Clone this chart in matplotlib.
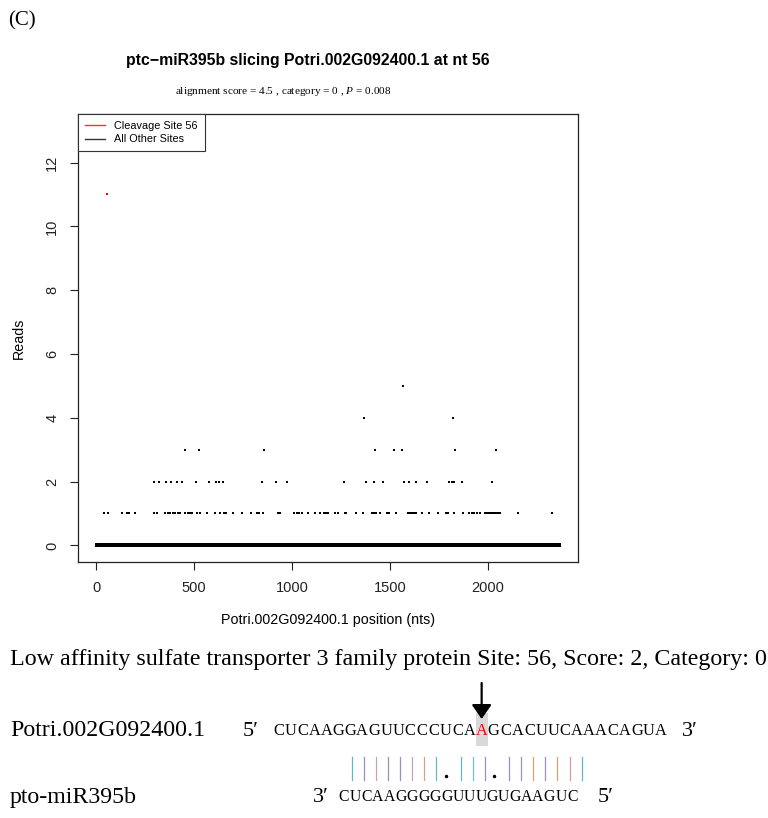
import numpy as np
import matplotlib
matplotlib.use("Agg")
import matplotlib.pyplot as plt
from matplotlib.lines import Line2D
from matplotlib.patches import Rectangle, FancyArrowPatch

# ---------------- data ----------------
transcript = "Potri.002G092400.1"
mirna_name = "pto-miR395b"
transcript_len = 2365
cleavage_site = 56
cleavage_reads = 11

pos_1 = [39, 60, 130, 156, 169, 198, 296, 312, 352, 364, 378, 389, 402, 415, 429,
         455, 466, 478, 490, 514, 528, 567, 607, 629, 651, 664, 697, 743, 791, 820,
         830, 850, 927, 936, 1009, 1023, 1037, 1050, 1081, 1115, 1141, 1161, 1175,
         1183, 1218, 1235, 1268, 1276, 1324, 1363, 1406, 1416, 1430, 1448, 1483, 1496,
         1529, 1593, 1604, 1614, 1624, 1634, 1662, 1699, 1747, 1786, 1798, 1824, 1870,
         1904, 1918, 1931, 1944, 1961, 1983, 1993, 2003, 2013, 2027, 2034, 2044, 2055,
         2063, 2154, 2328]
pos_2 = [292, 321, 355, 381, 410, 435, 509, 574, 612, 624, 649, 847, 915, 973, 1264,
         1375, 1419, 1465, 1570, 1598, 1631, 1691, 1802, 1814, 1828, 1865, 2022]
pos_3 = [454, 522, 857, 1424, 1522, 1563, 1831, 2039]
pos_4 = [1366, 1821]
pos_5 = [1566]

target_seq = "CUCAAGGAGUUCCCUCAAGCACUUCAAACAGUA"
mirna_seq_3to5 = "CUCAAGGGGGUUUGUGAAGUC"
cleave_index = 17          # highlighted base in target_seq
align_start = 6            # first target base paired with the miRNA
bar_colors = ["#5fb8c8", "#9a8fc0", "#c9a0b0", "#9a8fc0", "#9a8fc0", "#c9a0b0",
              "#d4a08a", "#5fb8c8", None, "#5fb8c8", "#6cc3d0", "#9a8fc0", None,
              "#9a8fc0", "#a090b8", "#d4a070", "#9a8fc0", "#d4a070", "#d49a9a",
              "#5fb8c8"]

# ---------------- build reads ----------------
positions = np.arange(1, transcript_len + 1)
reads = np.zeros(transcript_len)
for val, plist in [(1, pos_1), (2, pos_2), (3, pos_3), (4, pos_4), (5, pos_5)]:
    for p in plist:
        reads[p - 1] = val
other_mask = positions != cleavage_site

# ---------------- figure ----------------
W, H = 768, 818
fig = plt.figure(figsize=(W / 100, H / 100), dpi=100)
SANS = ["Liberation Sans", "DejaVu Sans"]
SERIF = ["Liberation Serif", "DejaVu Serif"]
plt.rcParams["mathtext.fontset"] = "custom"
plt.rcParams["mathtext.it"] = "Liberation Serif:italic"
plt.rcParams["mathtext.rm"] = "Liberation Serif"


def fx(x):
    return x / W


def fy(y):
    return 1 - y / H


ax_l, ax_r, ax_t, ax_b = 78, 578, 114, 562
ax = fig.add_axes([fx(ax_l), fy(ax_b), (ax_r - ax_l) / W, (ax_b - ax_t) / H])

zero = other_mask & (reads == 0)
nz = other_mask & (reads > 0)
ax.scatter(positions[zero], reads[zero], s=5.0, marker="s", c="black", linewidths=0)
ax.scatter(positions[nz], reads[nz], s=2.6, marker="s", c="black", linewidths=0)
ax.scatter([cleavage_site], [cleavage_reads], s=2.8, marker="s", c="red", linewidths=0)

xr = transcript_len - 1
ax.set_xlim(1 - 0.04 * xr, transcript_len + 0.04 * xr)
ax.set_ylim(0 - 0.04 * 13, 13 + 0.04 * 13)
ax.set_xticks([0, 500, 1000, 1500, 2000])
ax.set_yticks([0, 2, 4, 6, 8, 10, 12])
ax.tick_params(direction="out", length=6, width=0.8, pad=7.5, labelsize=10.5, colors="#222222")
for lab in ax.get_xticklabels() + ax.get_yticklabels():
    lab.set_family(SANS)
for lab in ax.get_yticklabels():
    lab.set_rotation(90)
    lab.set_va("center")
for s in ax.spines.values():
    s.set_linewidth(0.9)
    s.set_color("#222222")

ax.set_xlabel(f"{transcript} position (nts)", family=SANS, fontsize=10.3)
ax.xaxis.set_label_coords(0.5, (ax_b - 620) / (ax_b - ax_t))
ax.xaxis.label.set_va("center")
ax.set_ylabel("Reads", family=SANS, fontsize=10.3)
ax.yaxis.set_label_coords((19 - ax_l) / (ax_r - ax_l), 0.5)
ax.yaxis.label.set_va("center")

handles = [Line2D([], [], color="#ff3030", lw=1.0), Line2D([], [], color="#333333", lw=1.0)]
leg = ax.legend(handles, [f"Cleavage Site {cleavage_site}", "All Other Sites"],
                loc="upper left", bbox_to_anchor=(0, 1), borderaxespad=0,
                fancybox=False, framealpha=1, edgecolor="#333333",
                prop={"family": SANS, "size": 7.8}, handlelength=1.8,
                handletextpad=0.9, labelspacing=0.3, borderpad=0.65)
leg.get_frame().set_linewidth(0.8)

# ---------------- titles ----------------
fig.text(fx(8), fy(21), "(C)", family=SERIF, fontsize=15, ha="left", va="center")
fig.text(fx(307.5), fy(60), f"ptc\u2212miR395b slicing {transcript} at nt {cleavage_site}",
         family=SANS, fontsize=11.4, fontweight="bold", ha="center", va="center")
fig.text(fx(283), fy(92), "alignment score = 4.5 , category = 0 , $P$ = 0.008",
         family=SERIF, fontsize=8.1, ha="center", va="center")

# ---------------- bottom annotation ----------------
fig.text(fx(10), fy(659), "Low affinity sulfate transporter 3 family protein Site: 56, Score: 2, Category: 0",
         family=SERIF, fontsize=17.3, ha="left", va="center")

row_t, row_m = 731, 797
fig.text(fx(10), fy(row_t), transcript, family=SERIF, fontsize=17.2, ha="left", va="center")
fig.text(fx(10), fy(row_m), mirna_name, family=SERIF, fontsize=17.2, ha="left", va="center")

# target row
t_left, t_pitch = 272.7, 11.94
fig.text(fx(243), fy(row_t), "5\u2032", family=SERIF, fontsize=16, ha="left", va="center")
cx = t_left + t_pitch * (cleave_index + 0.5)
fig.add_artist(Rectangle((fx(cx - 6), fy(745.5)), 12 / W, 32.5 / H,
                         transform=fig.transFigure, facecolor="#d9d9d9", edgecolor="none"))
for i, ch in enumerate(target_seq):
    fig.text(fx(t_left + t_pitch * (i + 0.5)), fy(row_t), ch, family=SERIF, fontsize=11.8,
             ha="center", va="center", color="red" if i == cleave_index else "black")
fig.text(fx(682), fy(row_t), "3\u2032", family=SERIF, fontsize=16, ha="left", va="center")

# arrow
fig.add_artist(FancyArrowPatch((fx(cx), fy(683)), (fx(cx), fy(719)), transform=fig.transFigure,
                               arrowstyle="-|>,head_length=0.43,head_width=0.3",
                               mutation_scale=20, lw=1.6, color="black",
                               shrinkA=0, shrinkB=0))

# alignment symbols
pair_ok = {("A", "U"), ("U", "A"), ("G", "C"), ("C", "G")}
wobble = {("G", "U"), ("U", "G")}
b_left, b_pitch = 351.7, 12.1
for k, m in enumerate(mirna_seq_3to5):
    t = target_seq[align_start + k]
    x = b_left + b_pitch * k
    if (t, m) in pair_ok:
        col = bar_colors[k] if k < len(bar_colors) and bar_colors[k] else "#5fb8c8"
        fig.add_artist(Line2D([fx(x), fx(x)], [fy(757), fy(780)], transform=fig.transFigure,
                              color=col, lw=0.9))
    elif (t, m) in wobble:
        fig.add_artist(Line2D([fx(x - 3)], [fy(776)], transform=fig.transFigure,
                              marker="o", markersize=1.5, color="black", lw=0))

# miRNA row
m_left, m_pitch = 338, 11.43
fig.text(fx(313), fy(row_m), "3\u2032", family=SERIF, fontsize=16, ha="left", va="center")
for i, ch in enumerate(mirna_seq_3to5):
    fig.text(fx(m_left + m_pitch * (i + 0.5)), fy(row_m), ch, family=SERIF, fontsize=11.3,
             ha="center", va="center")
fig.text(fx(598), fy(row_m), "5\u2032", family=SERIF, fontsize=16, ha="left", va="center")

fig.savefig("out.png", dpi=100)
